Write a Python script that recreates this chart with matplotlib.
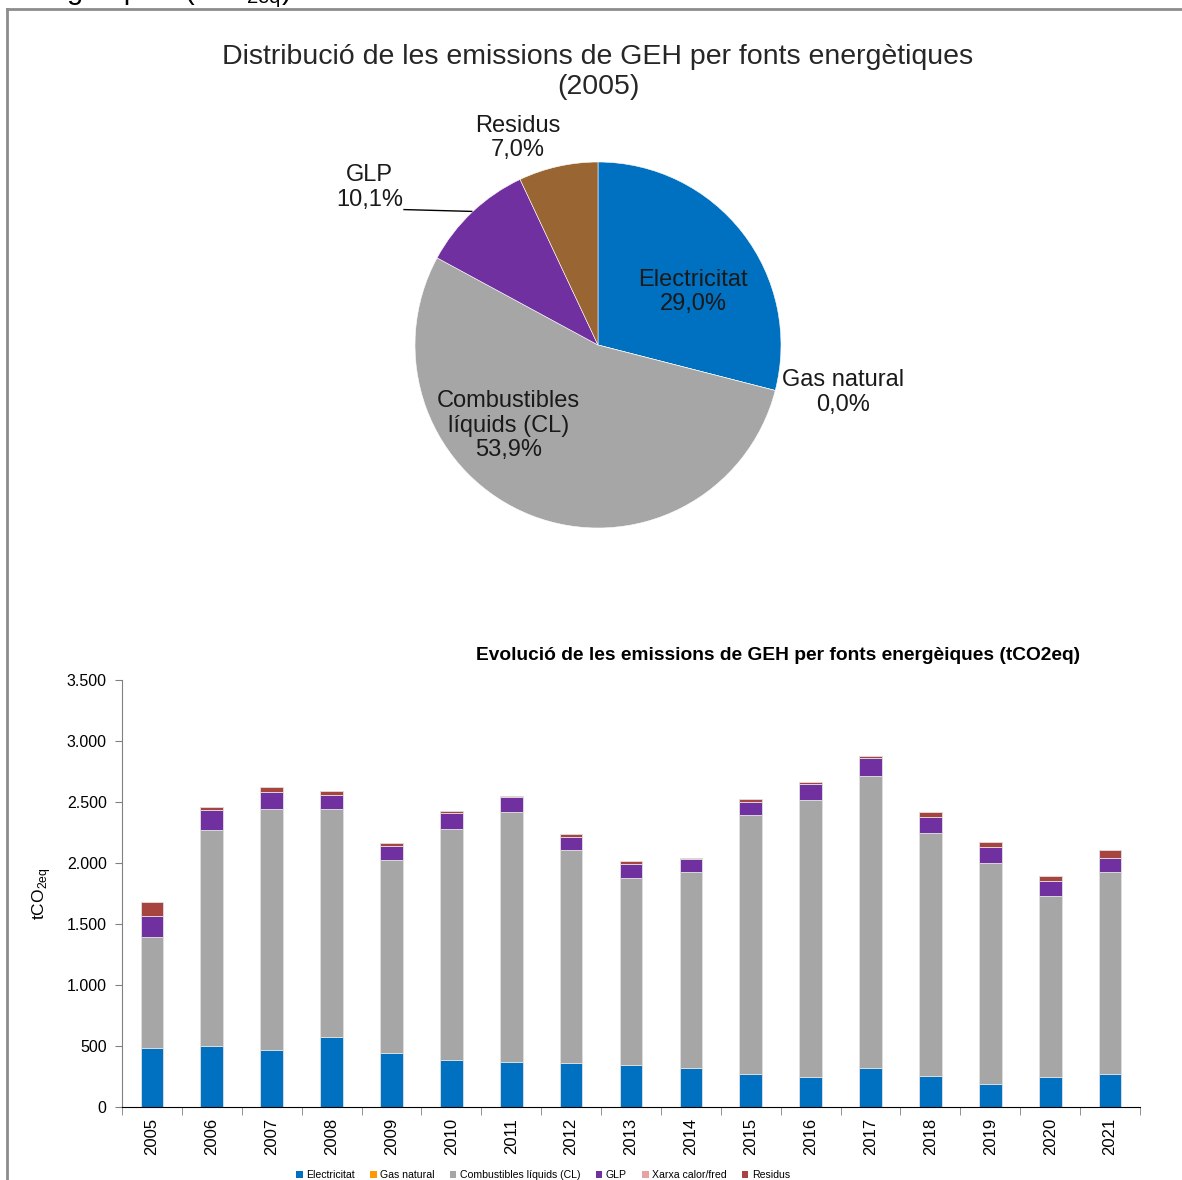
import numpy as np
import matplotlib
matplotlib.use("Agg")
import matplotlib.pyplot as plt
from matplotlib.lines import Line2D
from matplotlib.patches import Patch

plt.rcParams['font.family'] = ['Liberation Sans', 'DejaVu Sans']

# pie 2005 (%)
pie_labels = ['Electricitat', 'Gas natural', 'Combustibles\nlíquids (CL)', 'GLP', 'Residus']
pie_values = [29.0, 0.0, 53.9, 10.1, 7.0]
pie_colors = ['#0070C0', '#FF9900', '#A6A6A6', '#7030A0', '#996633']

# evolucio (tCO2eq)
years = [str(y) for y in range(2005, 2022)]
electricitat = [487, 500, 467, 576, 445, 385, 369, 363, 342, 320, 273, 243, 320, 257, 191, 243, 273]
gas_natural = [0] * 17
comb_liquids = [906, 1771, 1976, 1867, 1577, 1894, 2052, 1741, 1538, 1604, 2118, 2276, 2396, 1992, 1809, 1487, 1651]
glp = [170, 166, 142, 114, 120, 128, 117, 112, 114, 106, 112, 131, 142, 128, 134, 125, 120]
xarxa = [0] * 17
residus = [118, 22, 41, 33, 25, 22, 14, 24, 22, 14, 22, 11, 19, 41, 38, 38, 63]

series_names = ['Electricitat', 'Gas natural', 'Combustibles líquids (CL)', 'GLP', 'Xarxa calor/fred', 'Residus']
series_colors = ['#0070C0', '#FF9900', '#A6A6A6', '#7030A0', '#E6A3A3', '#A8443F']

W, H = 1182, 1180
fig = plt.figure(figsize=(W / 100, H / 100), dpi=100)

# marc i text tallat de dalt
fig.add_artist(Line2D([7 / W, 7 / W], [0, 1 - 9 / H], transform=fig.transFigure, color='#8c8c8c', lw=2))
fig.add_artist(Line2D([7 / W, 1], [1 - 9 / H, 1 - 9 / H], transform=fig.transFigure, color='#8c8c8c', lw=2))
fig.text(8 / W, 1 + 1 / H, r'energètiques (tCO$_{\mathregular{2eq}}$): 2005-2021.', fontsize=21, va='baseline', ha='left')

# ---- pie ----
cx, cy, r = 598, 345, 183
axp = fig.add_axes([(cx - r) / W, 1 - (cy + r) / H, 2 * r / W, 2 * r / H])
axp.pie(pie_values, colors=pie_colors, startangle=90, counterclock=False, radius=1,
        wedgeprops=dict(edgecolor='white', linewidth=0.4))
axp.set_xlim(-1, 1)
axp.set_ylim(-1, 1)
axp.set_aspect('equal')

def pct(v):
    return f'{v:.1f}%'.replace('.', ',')

lab_pos = [(0.52, 0.29), (1.34, -0.26), (-0.49, -0.44), (-1.25, 0.86), (-0.44, 1.13)]
for name, v, (tx, ty) in zip(pie_labels, pie_values, lab_pos):
    axp.text(tx, ty, f'{name}\n{pct(v)}', ha='center', va='center', fontsize=17,
             color='#1a1a1a', linespacing=1.15, clip_on=False)
axp.plot([-1.06, -0.69], [0.74, 0.73], color='black', lw=1, clip_on=False)

fig.text(598 / W, 1 - 72 / H, 'Distribució de les emissions de GEH per fonts energètiques\n(2005)',
         ha='center', va='center', fontsize=20.5, color='#262626', linespacing=1.25)

# ---- barres ----
ax = fig.add_axes([122 / W, 1 - 1107 / H, (1140 - 122) / W, (1107 - 680) / H])
x = np.arange(len(years))
bottom = np.zeros(len(years))
handles = []
for name, vals, col in zip(series_names, [electricitat, gas_natural, comb_liquids, glp, xarxa, residus], series_colors):
    vals = np.array(vals, dtype=float)
    ax.bar(x, vals, 0.38, bottom=bottom, color=col, edgecolor='#e0e0e0', linewidth=0.6)
    bottom += vals
    handles.append(Patch(facecolor=col, edgecolor='none', label=name))

ax.set_xlim(-0.5, len(years) - 0.5)
ax.set_ylim(0, 3500)
ax.set_yticks(np.arange(0, 3501, 500))
ax.set_yticklabels([f'{v:,}'.replace(',', '.') for v in range(0, 3501, 500)], fontsize=11.5)
ax.set_xticks(x)
ax.set_xticklabels(years, rotation=90, fontsize=12)
ax.set_xticks(np.arange(-0.5, len(years), 1), minor=True)
ax.tick_params(axis='x', which='major', length=0, pad=8)
ax.tick_params(axis='x', which='minor', length=6, color='#808080')
ax.tick_params(axis='y', length=5, color='#808080', pad=6)
for s in ['top', 'right']:
    ax.spines[s].set_visible(False)
ax.spines['left'].set_color('#808080')
ax.spines['bottom'].set_color('#000000')
ax.set_ylabel(r'tCO$_{\mathregular{2eq}}$', fontsize=12.5, labelpad=10)

fig.text(778 / W, 1 - 656 / H, 'Evolució de les emissions de GEH per fonts energèiques (tCO2eq)',
         ha='center', va='center', fontsize=13.8, fontweight='bold')

fig.legend(handles=handles, loc='center', bbox_to_anchor=(543 / W, 1 - 1175 / H), ncol=6,
           frameon=False, fontsize=7.6, handlelength=0.6, handleheight=0.6, handletextpad=0.3,
           columnspacing=1.5)

fig.savefig('out.png', dpi=100)
